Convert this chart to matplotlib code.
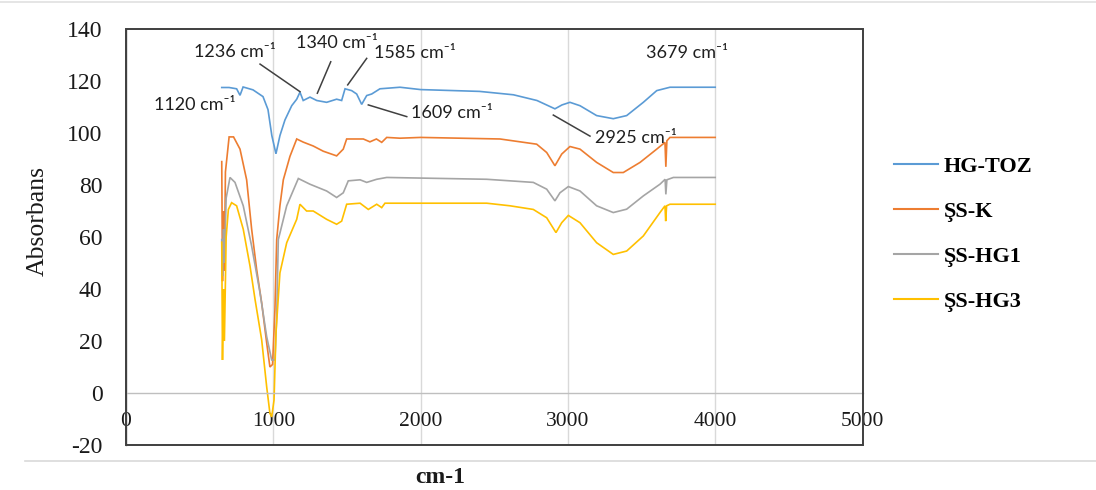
import matplotlib
matplotlib.use("Agg")
import matplotlib.pyplot as plt
from matplotlib.lines import Line2D
from matplotlib.patches import Rectangle

# ---------------- data ----------------
series_names = ["HG-TOZ", "ŞS-K", "ŞS-HG1", "ŞS-HG3"]
series_colors = ["#5B9BD5", "#ED7D31", "#A5A5A5", "#FFC000"]

hg_toz_x = [650, 700, 751, 774, 795, 862, 930, 964, 990, 1018, 1045, 1079, 1125, 1159, 1181,
            1203, 1249, 1295, 1362, 1430, 1464, 1487, 1532, 1566, 1600, 1634, 1668, 1724, 1860,
            2000, 2400, 2630, 2790, 2912, 2960, 3014, 3082, 3195, 3308, 3399, 3512, 3603, 3693, 4000]
hg_toz_y = [117.5, 117.5, 117, 114.5, 117.7, 116.6, 114, 109, 99, 92, 99, 105, 110.5, 113, 115.7,
            112.5, 113.8, 112.5, 111.8, 113, 112.5, 117, 116.3, 115, 111, 114.4, 115, 117, 117.6,
            116.7, 116, 114.7, 112.5, 109.3, 110.8, 111.8, 110.5, 106.7, 105.5, 106.7, 111.8, 116.3, 117.6, 117.6]

ss_k_x = [650, 655, 662, 668, 675, 700, 730, 774, 819, 853, 887, 921, 955, 977, 995, 1011, 1023,
          1045, 1068, 1113, 1159, 1203, 1271, 1339, 1430, 1475, 1498, 1611, 1656, 1700, 1736, 1770,
          1860, 2000, 2539, 2788, 2856, 2912, 2958, 3014, 3082, 3195, 3308, 3376, 3490, 3603, 3659,
          3665, 3672, 3693, 4000]
ss_k_y = [89, 43, 70, 47, 85, 98.5, 98.5, 93.8, 82, 63, 47.5, 34.7, 19.3, 10, 11, 32, 59,
          72, 82, 91, 97.7, 96.5, 95, 93, 91.2, 93.8, 97.7, 97.7, 96.6, 97.7, 96.4, 98.3,
          98, 98.3, 97.7, 95.7, 92.5, 87.4, 91.9, 94.8, 93.8, 88.7, 84.8, 84.8, 88.7, 93.8, 96.4,
          87, 97, 98.3, 98.3]

ss_hg1_x = [650, 655, 662, 668, 680, 706, 740, 796, 853, 910, 955, 989, 1011, 1023, 1034, 1091,
            1170, 1249, 1362, 1430, 1475, 1509, 1589, 1634, 1702, 1770, 2449, 2607, 2765, 2856,
            2912, 2946, 3003, 3082, 3195, 3308, 3399, 3512, 3625, 3660, 3665, 3672, 3716, 4000]
ss_hg1_y = [59, 45, 63, 50, 75, 82.9, 81, 72, 56.5, 38.5, 21.7, 12.7, 12.7, 29.5, 59, 72,
            82.5, 80.3, 77.7, 75.2, 77, 81.6, 82, 81, 82.2, 82.9, 82.2, 81.6, 81, 78.4,
            73.9, 77, 79.4, 77.7, 72, 69.4, 70.7, 75.8, 80.3, 82.2, 76.4, 82, 82.9, 82.9]

ss_hg3_x = [650, 655, 662, 668, 680, 695, 717, 751, 796, 842, 876, 921, 955, 977, 989, 1005, 1018,
            1045, 1091, 1159, 1181, 1226, 1271, 1362, 1430, 1464, 1498, 1589, 1645, 1702, 1736,
            1758, 2449, 2607, 2765, 2856, 2919, 2958, 3003, 3082, 3195, 3308, 3399, 3512, 3625,
            3659, 3664, 3670, 3693, 4000]
ss_hg3_y = [58, 12.7, 40, 20, 60, 70.6, 73.2, 72, 63, 48.8, 36, 20.5, 2.4, -7.8, -9.2, -2.7, 23,
            46.2, 57.8, 66.8, 72.6, 70, 70, 66.8, 64.9, 66.1, 72.6, 73, 70.6, 72.6, 71.3,
            73, 73, 72, 70.6, 67.4, 61.7, 65.5, 68.3, 65.5, 57.8, 53.3, 54.6, 60.4, 69.4,
            72, 66.1, 72, 72.6, 72.6]

# annotations: label, text position, leader line start (near text), leader line end (at curve)
ann_labels = ["1236 cm⁻¹", "1340 cm⁻¹", "1585 cm⁻¹", "1120 cm⁻¹", "1609 cm⁻¹", "2925 cm⁻¹", "3679 cm⁻¹"]
ann_text_x = [740, 1430, 1962, 468, 2211, 3462, 3806]
ann_text_y = [131.3, 134.5, 130.6, 110.8, 107.6, 98.0, 130.6]
ann_line_x0 = [910, 1390, 1634, None, 1906, 3150, None]
ann_line_y0 = [126.5, 127.4, 128.7, None, 106.3, 98.8, None]
ann_line_x1 = [1181, 1299, 1505, None, 1645, 2901, None]
ann_line_y1 = [115.9, 115.3, 118.5, None, 110.8, 106.9, None]

x_ticks = [0, 1000, 2000, 3000, 4000, 5000]
y_ticks = [-20, 0, 20, 40, 60, 80, 100, 120, 140]

# ---------------- figure ----------------
fig = plt.figure(figsize=(10.96, 4.90), dpi=100)
ax = fig.add_axes([126 / 1096, 45 / 490, (862.5 - 126) / 1096, (445 - 29) / 490])

# spines first (moving a spine resets the ticks)
for s in ["top", "right"]:
    ax.spines[s].set_visible(False)
ax.spines["bottom"].set_position(("data", 0))
ax.spines["bottom"].set_color("#BFBFBF")
ax.spines["bottom"].set_linewidth(1.0)
ax.spines["left"].set_color("#7F7F7F")
ax.spines["left"].set_linewidth(1.0)

xs = [hg_toz_x, ss_k_x, ss_hg1_x, ss_hg3_x]
ys = [hg_toz_y, ss_k_y, ss_hg1_y, ss_hg3_y]
for x, y, c, n in zip(xs, ys, series_colors, series_names):
    ax.plot(x, y, color=c, lw=1.2, label=n, solid_joinstyle="miter")

serif = "Liberation Serif"
ax.set_xlim(0, 5000)
ax.set_ylim(-20, 140)
ax.tick_params(axis="x", length=0, pad=14, colors="#1a1a1a")
ax.tick_params(axis="y", length=0, pad=17, colors="#1a1a1a")
ax.set_xticks(x_ticks)
ax.set_yticks(y_ticks)
ax.set_xticklabels([str(v) for v in x_ticks], fontfamily=serif, fontsize=15.5)
ax.set_yticklabels([str(v) for v in y_ticks], fontfamily=serif, fontsize=17)

# vertical gridlines
ax.grid(axis="x", color="#D9D9D9", lw=1.0)
ax.set_axisbelow(True)

ax.add_patch(Rectangle((0, 0), 1, 1, transform=ax.transAxes, fill=False,
                       edgecolor="#3F3F3F", lw=1.4, clip_on=False, zorder=5))

fig.text(38 / 1096, 1 - 221 / 490, "Absorbans", fontfamily=serif, fontsize=18.5,
         rotation=90, ha="center", va="center", color="#1a1a1a")
fig.text(440 / 1096, 1 - 477 / 490, "cm-1", fontfamily=serif, fontsize=17,
         fontweight="bold", ha="center", va="center", color="#1a1a1a")

# annotations
for lab, tx, ty, x0, y0, x1, y1 in zip(ann_labels, ann_text_x, ann_text_y,
                                        ann_line_x0, ann_line_y0, ann_line_x1, ann_line_y1):
    ax.text(tx, ty, lab, fontfamily=["Lato", "DejaVu Sans"], fontsize=13,
            ha="center", va="center", color="#1f1f1f", zorder=6)
    if x0 is not None:
        ax.plot([x0, x1], [y0, y1], color="#404040", lw=1.1, zorder=6)

# legend
handles = [Line2D([0], [0], color=c, lw=1.5) for c in series_colors]
leg = fig.legend(handles, series_names, loc="upper left",
                 bbox_to_anchor=(874 / 1096, 1 - 136 / 490), frameon=False,
                 prop={"family": serif, "size": 16, "weight": "bold"},
                 handlelength=2.0, handletextpad=0.25, labelspacing=1.1)

# outer chart border lines
fig.add_artist(Line2D([25 / 1096, 1], [1 - 461 / 490, 1 - 461 / 490],
                      transform=fig.transFigure, color="#D9D9D9", lw=1.2))
fig.add_artist(Line2D([0, 1], [1 - 2 / 490, 1 - 2 / 490],
                      transform=fig.transFigure, color="#E0E0E0", lw=1.2))

fig.savefig("out.png", dpi=100)
